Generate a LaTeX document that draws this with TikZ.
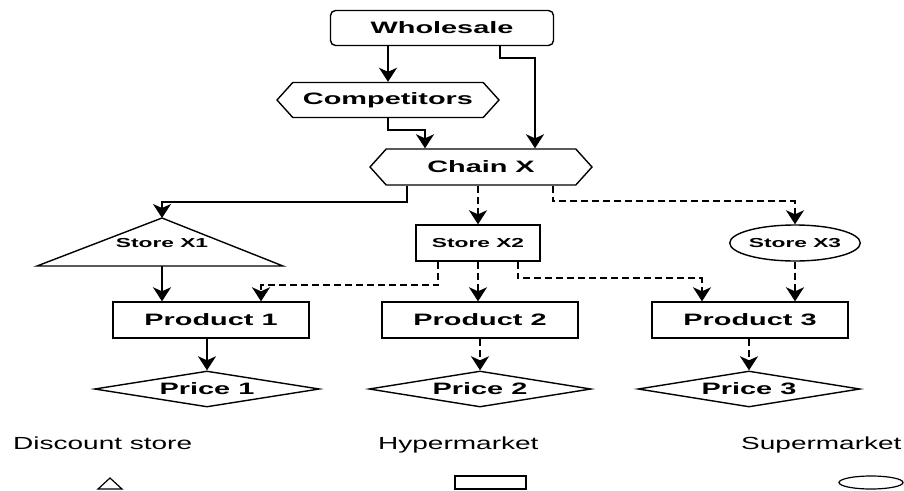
\documentclass[tikz,border=0pt]{standalone}
\usepackage{fontspec}
\setmainfont[FakeStretch=1.75]{Liberation Sans}
\newfontfamily\legendfont[FakeStretch=1.6]{Liberation Sans}
\usetikzlibrary{arrows.meta}
\usetikzlibrary{shapes.geometric}
\usetikzlibrary{shapes.symbols}
\tikzset{box/.style = {draw, line width=1.4pt, inner sep=0pt,
                       font=\bfseries\fontsize{16.5}{18}\selectfont},
         hexbox/.style = {box, signal, signal to=east and west,
                          signal pointer angle=96},
         storebox/.style = {box, font=\bfseries\fontsize{13}{15}\selectfont},
         pricebox/.style = {box, diamond, aspect=6},
         flow/.style = {line width=1.8pt, -{Stealth[length=14pt,width=18pt,inset=4pt]}},
         dflow/.style = {flow, dash pattern=on 7pt off 4pt},
         legend/.style = {anchor=base west, inner sep=0pt,
                          font=\legendfont\fontsize{17.5}{20}\selectfont}}

\begin{document}
\begin{tikzpicture}[x=1pt, y=-1pt]
    \useasboundingbox (0, 0) rectangle (904, 490);

    % top of the chain
    \node [box, rounded corners=5pt, minimum width=223pt, minimum height=35pt] (whol) at (442, 28) {Wholesale};
    \node [hexbox, minimum width=222pt, minimum height=35pt] (comp) at (388, 100) {Competitors};
    \node [hexbox, minimum width=222pt, minimum height=36pt] (chain) at (481, 167) {Chain X};

    % stores
    \draw [line width=1.4pt] (162, 218) coordinate (x1top) -- (283, 266) -- (37, 266) -- cycle;
    \coordinate (x1bot) at (162, 266);
    \node [storebox, draw=none] (sx1) at (162, 243) {Store X1};
    \node [storebox, minimum width=124pt, minimum height=36pt] (sx2) at (478, 243) {Store X2};
    \node [storebox, ellipse, minimum width=124pt, minimum height=36pt] (sx3) at (795, 243) {Store X3};

    % products and prices
    \node [box, minimum width=196pt, minimum height=36pt] (p1) at (211, 320) {Product 1};
    \node [box, minimum width=196pt, minimum height=36pt] (p2) at (480, 320) {Product 2};
    \node [box, minimum width=196pt, minimum height=36pt] (p3) at (750, 320) {Product 3};
    \node [pricebox, minimum width=225pt, minimum height=36pt] (pr1) at (207, 389) {Price 1};
    \node [pricebox, minimum width=222pt, minimum height=36pt] (pr2) at (480, 389) {Price 2};
    \node [pricebox, minimum width=222pt, minimum height=36pt] (pr3) at (749, 389) {Price 3};

    \draw [flow] (comp.north |- whol.south) -- (comp.north);
    \draw [flow] ([xshift=58pt]whol.south) |- ++(35, 12) -- ([xshift=54pt]chain.north);
    \draw [flow] (comp.south) |- ++(37, 12) -- ([xshift=-56pt]chain.north);

    \draw [flow] ([xshift=-74pt]chain.south) |- ([yshift=16pt]x1top) -- (x1top);
    \draw [dflow] (sx2.north |- chain.south) -- (sx2.north);
    \draw [dflow] ([xshift=72pt]chain.south) |- ([yshift=23pt]sx3.north) -- (sx3.north);

    \draw [flow] (x1bot) -- (x1bot |- p1.north);
    \draw [dflow] ([xshift=-40pt]sx2.south) |- ([xshift=50pt, yshift=16pt]p1.north) -- ([xshift=50pt]p1.north);
    \draw [dflow] (sx2.south) -- (sx2.south |- p2.north);
    \draw [dflow] ([xshift=40pt]sx2.south) |- ([xshift=-48pt, yshift=23pt]p3.north) -- ([xshift=-48pt]p3.north);
    \draw [dflow] (sx3.south) -- (sx3.south |- p3.north);

    \draw [flow] (pr1.north |- p1.south) -- (pr1.north);
    \draw [dflow] (pr2.north |- p2.south) -- (pr2.north);
    \draw [dflow] (pr3.north |- p3.south) -- (pr3.north);

    % legend
    \node [legend] (ldisc) at (13, 449) {Discount store};
    \node [legend] (lhyper) at (378, 449) {Hypermarket};
    \node [legend] (lsuper) at (741, 449) {Supermarket};
    \draw [line width=1.2pt] (110, 478) -- (122, 489) -- (98, 489) -- cycle;
    \draw [line width=1.2pt] (455, 476) rectangle (526, 489);
    \draw [line width=1.2pt] (871, 482.5) ellipse [x radius=32, y radius=6.5];
\end{tikzpicture}
\end{document}
